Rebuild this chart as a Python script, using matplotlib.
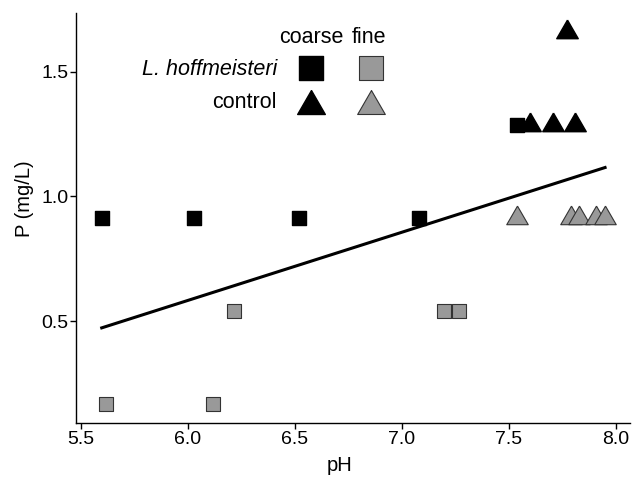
import numpy as np
import matplotlib.pyplot as plt
from matplotlib.markers import MarkerStyle

plt.rcParams['font.family'] = ['Liberation Sans', 'DejaVu Sans']

# L. hoffmeisteri, coarse
lh_coarse_ph = [5.599, 6.029, 6.52, 7.08, 7.54]
lh_coarse_p = [0.915, 0.915, 0.915, 0.915, 1.288]
# L. hoffmeisteri, fine
lh_fine_ph = [5.619, 6.119, 6.219, 7.199, 7.269]
lh_fine_p = [0.168, 0.168, 0.54, 0.54, 0.54]
# control, coarse
ctl_coarse_ph = [7.60, 7.709, 7.81, 7.771]
ctl_coarse_p = [1.288, 1.288, 1.288, 1.660]
# control, fine
ctl_fine_ph = [7.538, 7.79, 7.83, 7.91, 7.95]
ctl_fine_p = [0.915, 0.915, 0.915, 0.915, 0.915]

# fitted line ends
fit_ph = [5.599, 7.951]
fit_p = [0.474, 1.116]

grey = '#999999'
edge = '#333333'
# triangle centred on its centroid, like R's pch 24
tri = MarkerStyle([(0, 1), (-0.866, -0.5), (0.866, -0.5), (0, 1)])

fig = plt.figure(figsize=(6.32, 4.78), dpi=100)
ax = fig.add_axes([0.121, 0.115, 0.876, 0.858])

ax.plot(fit_ph, fit_p, color='black', lw=2.2, zorder=1)

ax.scatter(lh_coarse_ph, lh_coarse_p, marker='s', s=92, color='black', zorder=2)
ax.scatter(lh_fine_ph, lh_fine_p, marker='s', s=92, facecolor=grey, edgecolor=edge, lw=0.8, zorder=2)
ax.scatter(ctl_coarse_ph, ctl_coarse_p, marker=tri, s=320, color='black', zorder=2)
ax.scatter(ctl_fine_ph, ctl_fine_p, marker=tri, s=320, facecolor=grey, edgecolor=edge, lw=0.8, zorder=2)

# legend drawn inside the axes
tr = ax.transAxes
fs = 15.5
ax.text(0.4237, 0.939, 'coarse', transform=tr, ha='center', va='center', fontsize=fs)
ax.text(0.528, 0.939, 'fine', transform=tr, ha='center', va='center', fontsize=fs)
ax.text(0.3622, 0.863, 'L. hoffmeisteri', transform=tr, ha='right', va='center', fontsize=fs, style='italic')
ax.text(0.3622, 0.782, 'control', transform=tr, ha='right', va='center', fontsize=fs)
ax.scatter([0.4237], [0.865], transform=tr, marker='s', s=282, color='black')
ax.scatter([0.532], [0.865], transform=tr, marker='s', s=282, facecolor=grey, edgecolor=edge, lw=0.8)
ax.scatter([0.4237], [0.773], transform=tr, marker=tri, s=530, color='black')
ax.scatter([0.532], [0.773], transform=tr, marker=tri, s=530, facecolor=grey, edgecolor=edge, lw=0.8)

ax.set_xlim(5.481, 8.068)
ax.set_ylim(0.093, 1.735)
ax.set_xticks([5.5, 6.0, 6.5, 7.0, 7.5, 8.0])
ax.set_yticks([0.5, 1.0, 1.5])
ax.tick_params(labelsize=14, length=4, width=1, colors='black', pad=2)
ax.set_xlabel('pH', fontsize=14.5)
ax.set_ylabel('P (mg/L)', fontsize=14.5)
ax.xaxis.set_label_coords(0.476, -0.08)
ax.yaxis.set_label_coords(-0.077, 0.546)
for s in ['top', 'right']:
    ax.spines[s].set_visible(False)
for s in ['left', 'bottom']:
    ax.spines[s].set_linewidth(1)

fig.savefig('out.png', dpi=100)
